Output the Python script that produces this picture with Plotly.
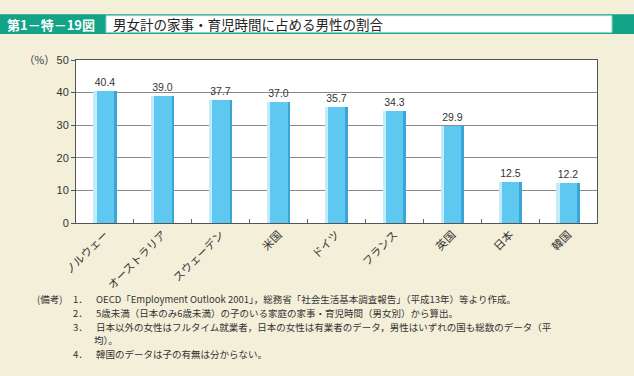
import plotly.graph_objects as go

countries = ["ノルウェー", "オーストラリア", "スウェーデン", "米国", "ドイツ", "フランス", "英国", "日本", "韓国"]
male_share = [40.4, 39.0, 37.7, 37.0, 35.7, 34.3, 29.9, 12.5, 12.2]
value_labels = [f"{v:.1f}" for v in male_share]
y_ticks = [0, 10, 20, 30, 40, 50]

title_label = "第1－特－19図"
title_text = "男女計の家事・育児時間に占める男性の割合"
notes = [
    ("(備考)", "1．", "OECD「Employment Outlook 2001」，総務省「社会生活基本調査報告」（平成13年）等より作成。"),
    ("", "2．", "5歳未満（日本のみ6歳未満）の子のいる家庭の家事・育児時間（男女別）から算出。"),
    ("", "3．", "日本以外の女性はフルタイム就業者，日本の女性は有業者のデータ，男性はいずれの国も総数のデータ（平"),
    ("", "", "均）。"),
    ("", "4．", "韓国のデータは子の有無は分からない。"),
]

W, H = 634, 376
L, R, T, B = 76, 597, 60, 223.5
pw, ph = R - L, B - T


def px(x):
    return (x - L) / pw


def py(y):
    return (B - y) / ph


BG = "#f3efd9"
TEAL = "#13a386"
JP = "Noto Sans CJK JP"

fig = go.Figure()
# main bar body
fig.add_trace(go.Bar(
    x=countries, y=male_share, width=0.4, offset=-0.2,
    marker=dict(color="#5fc8f1", line=dict(width=0)),
    text=value_labels, textposition="outside",
    textfont=dict(size=10.5, color="#333333", family="Liberation Sans"),
    cliponaxis=False, hoverinfo="skip", showlegend=False,
))
# light highlight on left
fig.add_trace(go.Bar(
    x=countries, y=male_share, width=0.055, offset=-0.2,
    marker=dict(color="#c4ebfa", line=dict(width=0)),
    hoverinfo="skip", showlegend=False,
))
# dark shade on right
fig.add_trace(go.Bar(
    x=countries, y=male_share, width=0.045, offset=0.155,
    marker=dict(color="#3ba6d6", line=dict(width=0)),
    hoverinfo="skip", showlegend=False,
))

shapes = [
    dict(type="rect", xref="paper", yref="paper", x0=px(0), x1=px(W), y0=py(34), y1=py(14),
         fillcolor=TEAL, line=dict(width=0), layer="below"),
    dict(type="rect", xref="paper", yref="paper", x0=px(106), x1=px(612), y0=py(32.5), y1=py(15.5),
         fillcolor="white", line=dict(color="#8fd4c5", width=1), layer="below"),
]

annotations = [
    dict(text=f"<b>{title_label}</b>", x=px(5), y=py(24), xref="paper", yref="paper",
         xanchor="left", yanchor="middle", showarrow=False,
         font=dict(size=13, color="white", family=JP)),
    dict(text=title_text, x=px(111), y=py(24), xref="paper", yref="paper",
         xanchor="left", yanchor="middle", showarrow=False,
         font=dict(size=13.5, color="#222222", family=JP)),
    dict(text="（%）", x=px(57), y=py(59), xref="paper", yref="paper",
         xanchor="right", yanchor="middle", showarrow=False,
         font=dict(size=10.5, color="#333333", family=JP)),
]

line_y = [300, 314, 327.5, 341, 354.5]
for (head, num, body), yy in zip(notes, line_y):
    if head:
        annotations.append(dict(text=head, x=px(35), y=py(yy), xref="paper", yref="paper",
                                xanchor="left", yanchor="middle", showarrow=False,
                                font=dict(size=9.5, color="#333333", family=JP)))
    if num:
        annotations.append(dict(text=num, x=px(71), y=py(yy), xref="paper", yref="paper",
                                xanchor="left", yanchor="middle", showarrow=False,
                                font=dict(size=9.5, color="#333333", family=JP)))
    annotations.append(dict(text=body, x=px(94 if num else 92), y=py(yy), xref="paper", yref="paper",
                            xanchor="left", yanchor="middle", showarrow=False,
                            font=dict(size=9.5, color="#333333", family=JP)))

fig.update_layout(
    width=W, height=H,
    margin=dict(l=L, r=W - R, t=T, b=H - B, pad=0),
    paper_bgcolor=BG, plot_bgcolor="white",
    barmode="overlay", bargap=0,
    shapes=shapes, annotations=annotations,
    showlegend=False,
)
fig.update_xaxes(
    type="category", tickson="boundaries", ticks="inside", ticklen=4, tickcolor="#666666",
    tickangle=-45, tickfont=dict(size=11, color="#333333", family=JP),
    showline=True, linecolor="#555555", linewidth=1, mirror=True, showgrid=False,
)
fig.update_yaxes(
    range=[0, 50], tickvals=y_ticks, ticks="outside", ticklen=4, tickcolor="#555555",
    tickfont=dict(size=11, color="#333333", family="Liberation Sans"),
    showline=True, linecolor="#555555", linewidth=1, mirror=True,
    showgrid=True, gridcolor="#8a8a8a", gridwidth=1, zeroline=False,
)

fig.write_html(
    "out.html",
    config={"displayModeBar": False},
    post_script="document.body.style.margin='0';document.body.style.background='" + BG + "';",
)
